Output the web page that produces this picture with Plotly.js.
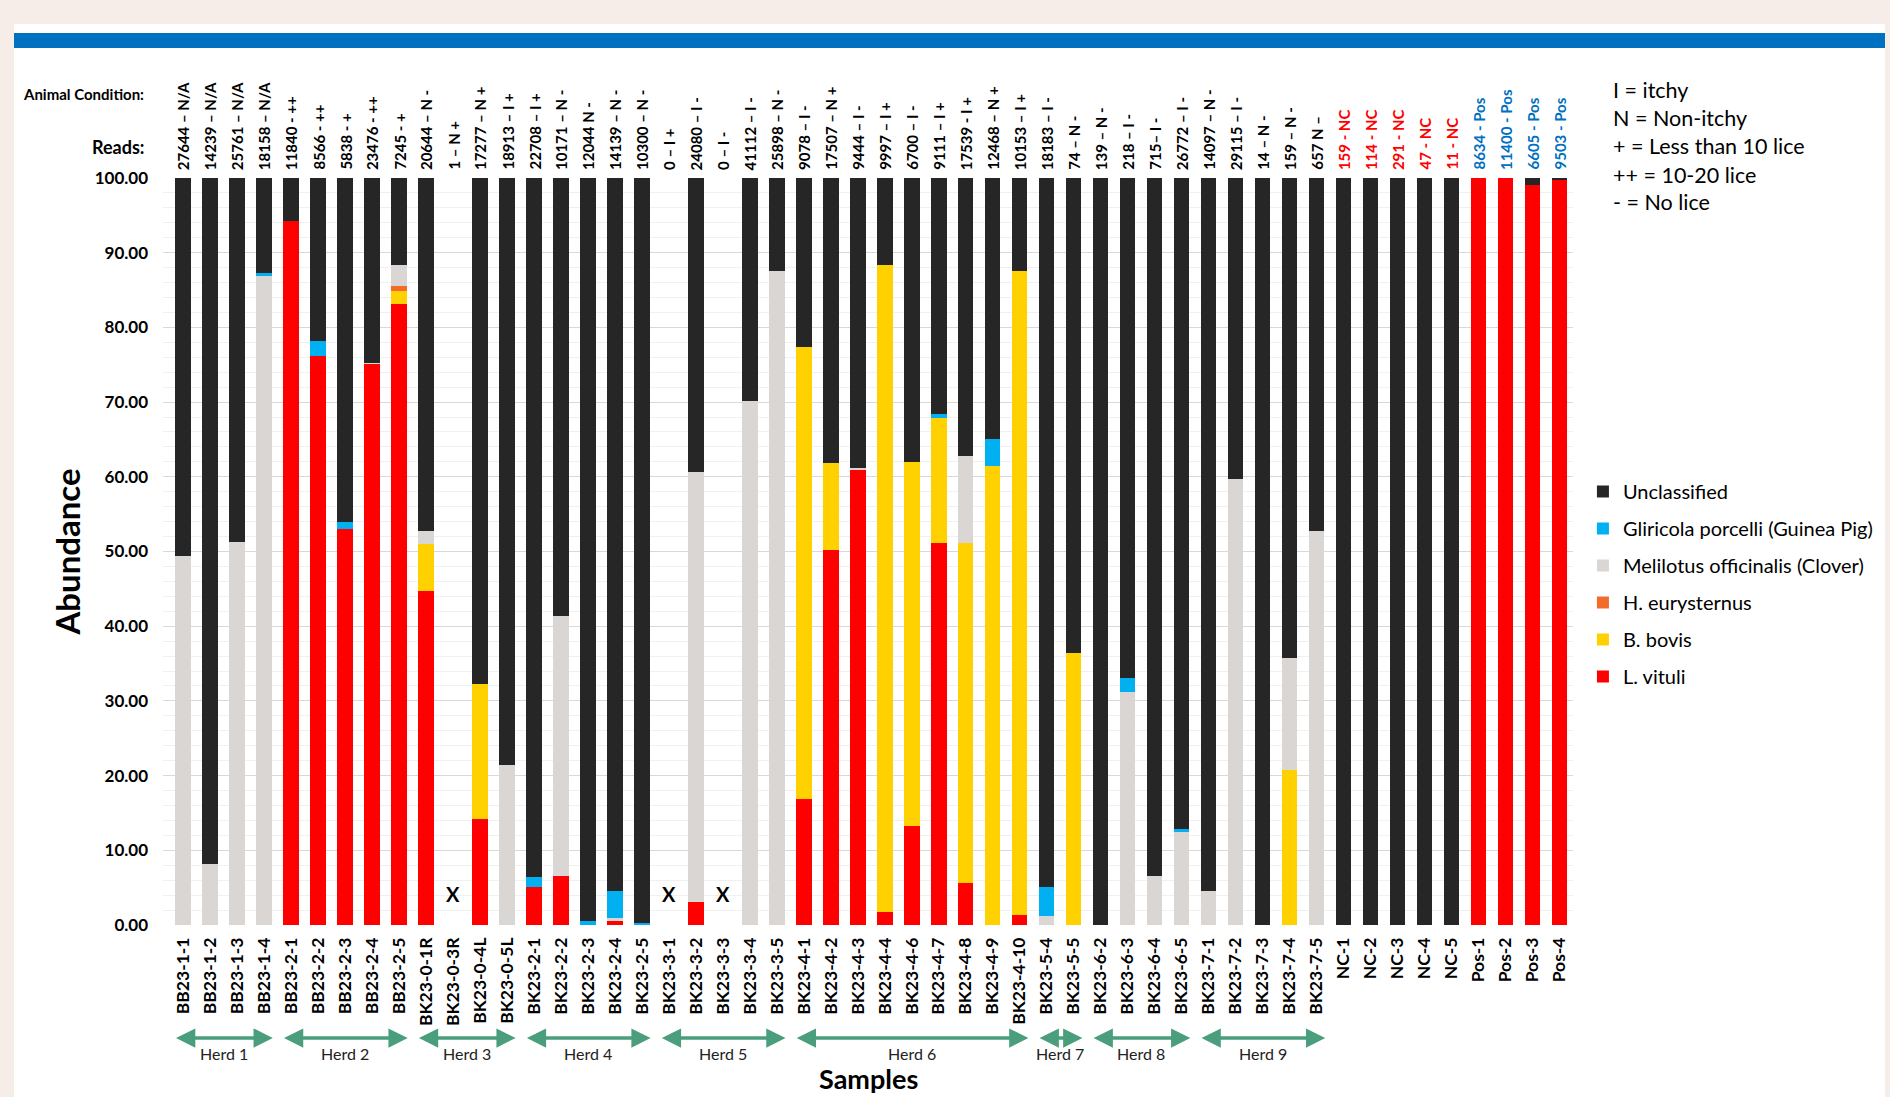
<!DOCTYPE html>
<html>
<head>
<meta charset="utf-8">
<script src="https://cdn.plot.ly/plotly-3.0.1.min.js"></script>
<style>
  html, body { margin:0; padding:0; width:1890px; height:1097px; overflow:hidden; background:#F6ECE8; }
  #card { position:absolute; left:14px; top:24px; width:1871px; height:1073px; background:#ffffff; }
  #band { position:absolute; left:14px; top:33px; width:1871px; height:15px; background:#0070C0; }
  #chart { position:absolute; left:0; top:0; width:1890px; height:1097px; }
</style>
</head>
<body>
<div id="card"></div>
<div id="band"></div>
<div id="chart"></div>
<script>
// ---------------- DATA ----------------
const samples = ["BB23-1-1","BB23-1-2","BB23-1-3","BB23-1-4","BB23-2-1","BB23-2-2","BB23-2-3","BB23-2-4","BB23-2-5",
  "BK23-0-1R","BK23-0-3R","BK23-0-4L","BK23-0-5L","BK23-2-1","BK23-2-2","BK23-2-3","BK23-2-4","BK23-2-5",
  "BK23-3-1","BK23-3-2","BK23-3-3","BK23-3-4","BK23-3-5","BK23-4-1","BK23-4-2","BK23-4-3","BK23-4-4","BK23-4-6",
  "BK23-4-7","BK23-4-8","BK23-4-9","BK23-4-10","BK23-5-4","BK23-5-5","BK23-6-2","BK23-6-3","BK23-6-4","BK23-6-5",
  "BK23-7-1","BK23-7-2","BK23-7-3","BK23-7-4","BK23-7-5","NC-1","NC-2","NC-3","NC-4","NC-5","Pos-1","Pos-2","Pos-3","Pos-4"];

const readLabels = ["27644 – N/A","14239 – N/A","25761 – N/A","18158 – N/A","11840 - ++","8566 - ++","5838 - +","23476 - ++","7245 - +",
  "20644 – N -","1 – N +","17277 – N +","18913 – I +","22708 – I +","10171 – N -","12044 N -","14139 – N -","10300 – N -",
  "0 – I +","24080 – I -","0 – I -","41112 – I -","25898 – N -","9078 – I -","17507 – N +","9444 – I -","9997 – I +","6700 – I -",
  "9111 – I +","17539 - I +","12468 – N +","10153 – I +","18183 – I -","74 – N -","139 – N -","218 – I -","715– I -","26772 – I -",
  "14097 – N -","29115 – I -","14 – N -","159 – N -","657 N –","159 - NC","114 - NC","291 - NC","47 - NC","11 - NC",
  "8634 - Pos","11400 - Pos","6605 - Pos","9503 - Pos"];

const lVituli      = [0,0,0,0,94.3,76.2,53.0,75.1,83.1, 44.7,0,14.2,0,5.1,6.6,0,0.6,0, 0,3.1,0,0,0,16.9,50.2,61.0,1.8,13.2, 51.2,5.6,0,1.3,0,0,0,0,0,0, 0,0,0,0,0,0,0,0,0,0, 100,100,99.0,99.7];
const bBovis       = [0,0,0,0,0,0,0,0,1.8, 6.3,0,18.1,0,0,0,0,0,0, 0,0,0,0,0,60.5,11.6,0,86.5,48.8, 16.7,45.6,61.4,86.2,0,36.4,0,0,0,0, 0,0,0,20.8,0,0,0,0,0,0, 0,0,0,0];
const hEurysternus = [0,0,0,0,0,0,0,0,0.6, 0,0,0,0,0,0,0,0,0, 0,0,0,0,0,0,0,0,0,0, 0,0,0,0,0,0,0,0,0,0, 0,0,0,0,0,0,0,0,0,0, 0,0,0,0];
const clover       = [49.4,8.2,51.3,86.9,0,0,0,0.2,2.9, 1.8,0,0,21.4,0,34.8,0,0.4,0, 0,57.6,0,70.1,87.5,0,0,0.2,0,0, 0,11.6,0,0,1.2,0,0,31.2,6.6,12.5, 4.6,59.7,0,15.0,52.8,0,0,0,0,0, 0,0,0,0];
const gliricola    = [0,0,0,0.4,0,2.0,1.0,0,0, 0,0,0,0,1.3,0,0.5,3.6,0.3, 0,0,0,0,0,0,0,0,0,0, 0.5,0,3.6,0,3.9,0,0,1.9,0,0.3, 0,0,0,0,0,0,0,0,0,0, 0,0,0,0];
const unclassified = [50.6,91.8,48.7,12.7,5.7,21.8,46.0,24.7,11.6, 47.2,0,67.7,78.6,93.6,58.6,99.5,95.4,99.7, 0,39.3,0,29.9,12.5,22.6,38.2,38.8,11.7,38.0, 31.6,37.2,35.0,12.5,94.9,63.6,100,66.9,93.4,87.2, 95.4,40.3,100,64.2,47.2,100,100,100,100,100, 0,0,1.0,0.3];

const missingSamples = ["BK23-0-3R","BK23-3-1","BK23-3-3"];

const herdNames = ["Herd 1","Herd 2","Herd 3","Herd 4","Herd 5","Herd 6","Herd 7","Herd 8","Herd 9"];
const herdFirst = ["BB23-1-1","BB23-2-1","BK23-0-1R","BK23-2-1","BK23-3-1","BK23-4-1","BK23-5-4","BK23-6-2","BK23-7-1"];
const herdLast  = ["BB23-1-4","BB23-2-5","BK23-0-5L","BK23-2-5","BK23-3-5","BK23-4-10","BK23-5-5","BK23-6-5","BK23-7-5"];

const keyLines = ["I = itchy","N = Non-itchy","+ = Less than 10 lice","++ = 10-20 lice","- = No lice"];

// ---------------- LAYOUT HELPERS ----------------
const W = 1890, H = 1097;
const M = {l:163, r:308, t:178, b:172};
const PW = W - M.l - M.r, PH = H - M.t - M.b;
const px2x = p => (p - M.l) / PW;
const px2y = p => (H - M.b - p) / PH;

const FONT = "Lato, 'Open Sans', 'Liberation Sans', sans-serif";

// stacking order bottom -> top; legend rank puts Unclassified first
const series = [
  {name:"L. vituli", y:lVituli, color:"#FF0000", rank:6},
  {name:"B. bovis", y:bBovis, color:"#FFD100", rank:5},
  {name:"H. eurysternus", y:hEurysternus, color:"#F26B2A", rank:4},
  {name:"Melilotus officinalis (Clover)", y:clover, color:"#D9D6D3", rank:3},
  {name:"Gliricola porcelli (Guinea Pig)", y:gliricola, color:"#00B0F0", rank:2},
  {name:"Unclassified", y:unclassified, color:"#262626", rank:1}
];

const traces = series.map((s, i) => ({
  type:"bar", x:samples, y:s.y, name:s.name, legendgroup:"g"+i, legendrank:s.rank,
  marker:{color:s.color, line:{width:0}}, hoverinfo:"x+y+name"
}));

const annotations = [];

// reads / condition labels above each bar
samples.forEach((s, i) => {
  let col = "#000000";
  if (s.startsWith("NC")) col = "#FF0000";
  if (s.startsWith("Pos")) col = "#0070C0";
  annotations.push({x:s, xref:"x", y:1, yref:"paper", yanchor:"bottom", xanchor:"center",
    yshift:6, textangle:-90, showarrow:false, text:readLabels[i],
    font:{family:FONT, size:15, color:col, weight:"bold"}});
});

annotations.push({x:px2x(146), xref:"paper", y:px2y(94), yref:"paper", xanchor:"right", yanchor:"middle",
  showarrow:false, text:"Animal Condition:", font:{family:FONT, size:15, color:"#000", weight:"bold"}});
annotations.push({x:px2x(146), xref:"paper", y:px2y(147), yref:"paper", xanchor:"right", yanchor:"middle",
  showarrow:false, text:"Reads:", font:{family:FONT, size:18, color:"#000", weight:"bold"}});

const keyY = [90, 118, 146, 175, 202];
keyLines.forEach((t, i) => {
  annotations.push({x:px2x(1620), xref:"paper", y:px2y(keyY[i]), yref:"paper", xanchor:"left", yanchor:"middle",
    showarrow:false, text:t, font:{family:FONT, size:21.5, color:"#000"}});
});

missingSamples.forEach(s => {
  annotations.push({x:s, xref:"x", y:4.2, yref:"y", showarrow:false, text:"X",
    font:{family:FONT, size:20, color:"#000", weight:"bold"}});
});

herdNames.forEach((h, i) => {
  const a = samples.indexOf(herdFirst[i]), b = samples.indexOf(herdLast[i]);
  annotations.push({x:b + 0.32, xref:"x", ax:a - 0.32, axref:"x", y:px2y(1038), yref:"paper", ay:0, ayref:"pixel",
    text:"", showarrow:true, arrowside:"end+start", arrowhead:2, arrowsize:1.1, arrowwidth:3.5, arrowcolor:"#4A9E7C", standoff:0, startstandoff:0});
  annotations.push({x:(a + b) / 2, xref:"x", y:px2y(1053), yref:"paper", yanchor:"middle", showarrow:false, text:h,
    borderpad:0, font:{family:FONT, size:16, color:"#222"}});
});

annotations.push({x:0.5, xref:"paper", y:px2y(1096), yref:"paper", yanchor:"bottom", showarrow:false, text:"Samples",
  borderpad:0, font:{family:FONT, size:27, color:"#000", weight:"bold"}});

const layout = {
  width:W, height:H,
  margin:M,
  paper_bgcolor:"rgba(0,0,0,0)",
  plot_bgcolor:"#FFFFFF",
  barmode:"stack",
  bargap:0.43,
  font:{family:FONT, color:"#000"},
  showlegend:true,
  legend:{x:px2x(1592), xanchor:"left", y:px2y(472), yanchor:"top", traceorder:"grouped",
    tracegroupgap:8, itemwidth:30, bgcolor:"rgba(0,0,0,0)",
    font:{family:FONT, size:20, color:"#000"}},
  xaxis:{type:"category", tickangle:-90, showgrid:false, zeroline:false, showline:false, ticks:"",
    ticklabelstandoff:8, tickfont:{family:FONT, size:17.5, color:"#000", weight:"bold"}, automargin:false},
  yaxis:{range:[0,100], dtick:10, tickformat:".2f", showgrid:true, gridcolor:"#D9D9D9", gridwidth:1,
    zeroline:false, showline:false, ticks:"", ticklabelstandoff:14,
    minor:{dtick:2, showgrid:true, gridcolor:"#F0F0F0", gridwidth:1},
    tickfont:{family:FONT, size:17, color:"#000", weight:"bold"}, automargin:false,
    title:{text:"Abundance", standoff:4, font:{family:FONT, size:33, color:"#000", weight:"bold"}}},
  annotations:annotations
};

Plotly.newPlot("chart", traces, layout, {displayModeBar:false, responsive:false});
</script>
</body>
</html>
